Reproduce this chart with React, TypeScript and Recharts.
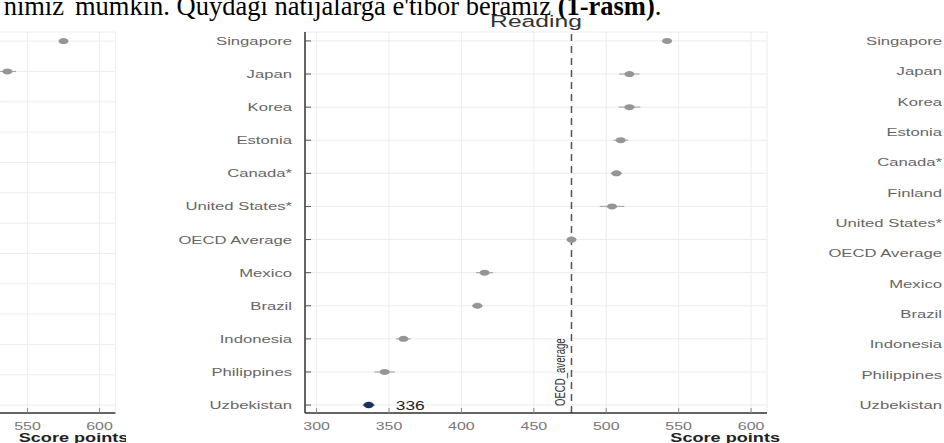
import React from 'react';
import { ScatterChart, Scatter, XAxis, YAxis, CartesianGrid, ReferenceLine, ErrorBar, LabelList } from 'recharts';

// ---- data ----
const readingCountries = ['Singapore', 'Japan', 'Korea', 'Estonia', 'Canada*', 'United States*', 'OECD Average', 'Mexico', 'Brazil', 'Indonesia', 'Philippines', 'Uzbekistan'];
const readingScores = [542, 516, 516, 510, 507, 504, 476, 416, 411, 360, 347, 336];
const readingErrors = [3, 7, 7.5, 5, 4, 8.5, 1, 6, 3.5, 5, 7, 4];

const panelCountries = ['Singapore', 'Japan', 'Korea', 'Estonia', 'Canada*', 'Finland', 'United States*', 'OECD Average', 'Mexico', 'Brazil', 'Indonesia', 'Philippines', 'Uzbekistan'];
const mathScores = [575, 536, 527, 510, 497, 484, 465, 472, 395, 379, 366, 355, 364];
const mathErrors = [3, 6, 4, 4, 3, 4, 8, 1, 5, 4, 6, 6, 5];
const scienceScores = [561, 547, 528, 526, 515, 511, 499, 485, 410, 403, 383, 356, 355];

const xTicks = [300, 350, 400, 450, 500, 550, 600];
const xDomain: [number, number] = [292, 611];
const oecdReading = 476;
const highlight = 'Uzbekistan';
const title = 'Reading';
const axisTitle = 'Score points';
const refLabel = 'OECD_average';

// ---- derived rows ----
const readingRows = readingCountries.map((c, i) => ({ country: c, idx: i, score: readingScores[i], err: readingErrors[i] }));
const mathRows = panelCountries.map((c, i) => ({ country: c, idx: i, score: mathScores[i], err: mathErrors[i] }));
const scienceRows = panelCountries.map((c, i) => ({ country: c, idx: i, score: scienceScores[i] }));

const STRETCH = 1.45;
const sans = "'Liberation Sans', Arial, sans-serif";
const serif = "'Liberation Serif', 'Times New Roman', serif";

const makeYTick = (names: string[], offset: number, withTick: boolean) => (props: any) => {
  const { x, y, payload } = props;
  const name = names[Math.round(Number(payload.value))];
  return (
    <g>
      {withTick && <line x1={x} x2={x + 6} y1={y} y2={y} stroke="#555" strokeWidth={1} />}
      <text transform={`translate(${x - offset},${y + 4}) scale(${STRETCH},1)`} textAnchor="end" fontSize={11.5} fill="#666" fontFamily={sans}>
        {name}
      </text>
    </g>
  );
};

const XTick = (props: any) => {
  const { x, y, payload } = props;
  return (
    <g>
      <line x1={x} x2={x} y1={y} y2={y - 5} stroke="#888" strokeWidth={1} />
      <text transform={`translate(${x},${y + 17}) scale(${STRETCH},1)`} textAnchor="middle" fontSize={11} fill="#777" fontFamily={sans}>
        {payload.value}
      </text>
    </g>
  );
};

const ScoreLabel = (props: any) => {
  const vb = props.viewBox || {};
  return (
    <text transform={`translate(${vb.x + vb.width + 13},${vb.y + 29}) scale(${STRETCH},1)`} textAnchor="end" fontSize={12.5} fontWeight="bold" fill="#222" fontFamily={sans}>
      {axisTitle}
    </text>
  );
};

const OecdLabel = (props: any) => {
  const vb = props.viewBox || {};
  return (
    <text transform={`translate(${vb.x - 6},${vb.y + vb.height - 7}) scale(${STRETCH},1) rotate(-90)`} textAnchor="start" fontSize={9.6} fill="#333" fontFamily={sans}>
      {refLabel}
    </text>
  );
};

const ValueLabel = (props: any) => {
  const { x, y, width, height, value } = props;
  const cx = x + width / 2;
  const cy = y + height / 2;
  return (
    <text transform={`translate(${cx + 27},${cy + 4.5}) scale(${STRETCH},1)`} textAnchor="start" fontSize={12} fill="#222" fontFamily={sans}>
      {value}
    </text>
  );
};

const GrayDot = (p: any) => <ellipse cx={p.cx} cy={p.cy} rx={5} ry={3} fill="#959595" />;
const NavyDot = (p: any) => <ellipse cx={p.cx} cy={p.cy} rx={5} ry={3.2} fill="#16345c" />;

const readingYTick = makeYTick(readingCountries, 13, true);
const rightYTick = makeYTick(panelCountries, 8, false);

export default function App() {
  const mainRows = readingRows.filter((r) => r.country !== highlight);
  const hiRows = readingRows.filter((r) => r.country === highlight);
  const leftWidth = 470;
  const leftPlot = (xDomain[1] - xDomain[0]) * 1.44;
  return (
    <div style={{ position: 'absolute', left: 0, top: 0, width: 944, height: 443, overflow: 'hidden', background: '#fff' }}>
      {/* left partial panel (Mathematics) */}
      <div style={{ position: 'absolute', left: 28 - (550 - xDomain[0]) * 1.44, top: 0 }}>
        <ScatterChart width={leftWidth} height={443} margin={{ top: 32, right: leftWidth - leftPlot, bottom: 0, left: 0 }}>
          <CartesianGrid stroke="#ededed" />
          <XAxis type="number" dataKey="score" domain={xDomain} ticks={xTicks} allowDataOverflow height={30} interval={0}
            axisLine={{ stroke: '#333', strokeWidth: 1.5 }} tickLine={false} tickSize={0} tickMargin={0} tick={XTick} label={ScoreLabel} />
          <YAxis hide type="number" dataKey="idx" domain={[-0.3, 12.26]} reversed allowDataOverflow ticks={mathRows.map((r) => r.idx)} interval={0} />
          <Scatter data={mathRows} shape={GrayDot} isAnimationActive={false}>
            <ErrorBar dataKey="err" direction="x" width={0} stroke="#aaa" strokeWidth={1.2} />
          </Scatter>
        </ScatterChart>
      </div>

      {/* main panel (Reading) */}
      <div style={{ position: 'absolute', left: 0, top: 0 }}>
        <ScatterChart width={944} height={443} margin={{ top: 32, right: 177, bottom: 0, left: 0 }}>
          <CartesianGrid stroke="#ececec" />
          <XAxis type="number" dataKey="score" domain={xDomain} ticks={xTicks} allowDataOverflow height={30} interval={0}
            axisLine={{ stroke: '#333', strokeWidth: 1.5 }} tickLine={false} tickSize={0} tickMargin={0} tick={XTick} label={ScoreLabel} />
          <YAxis type="number" dataKey="idx" domain={[-0.27, 11.24]} reversed allowDataOverflow ticks={readingRows.map((r) => r.idx)} interval={0}
            width={305} axisLine={{ stroke: '#333', strokeWidth: 1.5 }} tickLine={false} tickSize={0} tickMargin={0} tick={readingYTick} />
          <ReferenceLine x={oecdReading} stroke="#555" strokeDasharray="7 5" strokeWidth={1.5} label={OecdLabel} />
          <Scatter data={mainRows} shape={GrayDot} isAnimationActive={false}>
            <ErrorBar dataKey="err" direction="x" width={0} stroke="#aaa" strokeWidth={1.2} />
          </Scatter>
          <Scatter data={hiRows} shape={NavyDot} isAnimationActive={false}>
            <ErrorBar dataKey="err" direction="x" width={0} stroke="#16345c" strokeWidth={1.2} />
            <LabelList dataKey="score" content={ValueLabel} />
          </Scatter>
        </ScatterChart>
      </div>

      {/* right partial panel (labels only visible) */}
      <div style={{ position: 'absolute', left: 700, top: 0 }}>
        <ScatterChart width={500} height={443} margin={{ top: 32, right: 0, bottom: 30, left: 0 }}>
          <XAxis hide type="number" dataKey="score" domain={xDomain} allowDataOverflow />
          <YAxis type="number" dataKey="idx" domain={[-0.3, 12.26]} reversed allowDataOverflow ticks={scienceRows.map((r) => r.idx)} interval={0}
            width={250} axisLine={false} tickLine={false} tickSize={0} tickMargin={0} tick={rightYTick} />
          <Scatter data={scienceRows} shape={GrayDot} isAnimationActive={false} />
        </ScatterChart>
      </div>

      {/* page text and title */}
      <svg width={944} height={443} style={{ position: 'absolute', left: 0, top: 0, pointerEvents: 'none' }}>
        <text x={64} y={15} textAnchor="end" fontSize={26.5} fill="#000" fontFamily={serif}>nimiz</text>
        <text x={75} y={15} fontSize={26.5} fill="#000" fontFamily={serif}>
          {"mumkin. Quydagi natijalarga e'tibor beramiz "}
          <tspan fontWeight="bold">(1-rasm)</tspan>
          {'.'}
        </text>
        <text transform={`translate(536,27) scale(${STRETCH},1)`} textAnchor="middle" fontSize={17} fill="#333" fontFamily={sans}>{title}</text>
      </svg>
    </div>
  );
}
